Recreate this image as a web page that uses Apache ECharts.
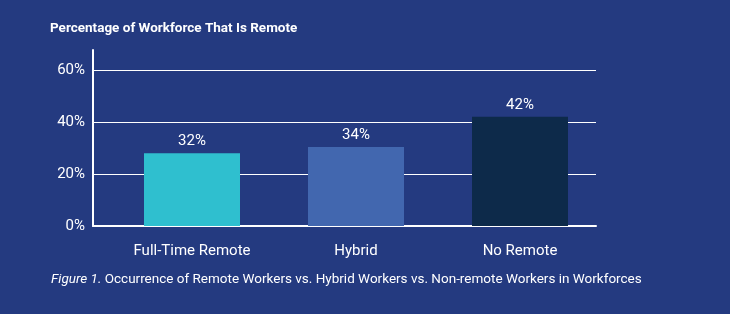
<!DOCTYPE html>
<html>
<head>
	<meta charset="utf-8">
	<title>Remote workforce</title>
	<script src="https://cdn.jsdelivr.net/npm/echarts@6/dist/echarts.min.js"></script>
	<style>
		html, body { margin: 0; padding: 0; background: #243a80; }
	</style>
</head>
<body>
	<div id="main" style="width: 730px;height:314px;"></div>
	<script type="text/javascript">
	var myChart = echarts.init(document.getElementById('main'));

	// categories and values
	var categories = ['Full-Time Remote', 'Hybrid', 'No Remote'];
	var barHeights = [28, 30.4, 42];           // drawn bar heights (%)
	var barLabels = ['32%', '34%', '42%'];     // printed labels above bars
	var barColors = ['#2fbfcf', '#4267af', '#0d2a4a'];
	var yTicks = [0, 20, 40, 60];

	var white = '#ffffff';
	var font = 'Roboto';

	var option = {
		backgroundColor: '#243a80',
		animation: false,
		title: [{
			text: 'Percentage of Workforce That Is Remote',
			left: 45,
			top: 17,
			textStyle: { color: white, fontFamily: font, fontWeight: 'bold', fontSize: 13.5 }
		}, {
			text: '{i|Figure 1.} Occurrence of Remote Workers vs. Hybrid Workers vs. Non-remote Workers in Workforces',
			left: 46,
			top: 268,
			textStyle: {
				color: white, fontFamily: font, fontSize: 13.5, fontWeight: 'normal',
				rich: { i: { fontStyle: 'italic', fontWeight: 'normal', color: white, fontFamily: font, fontSize: 13.5 } }
			}
		}],
		grid: [
			// grid lines and y labels
			{ left: 93, right: 134, top: 70, bottom: 88 },
			// bars and category labels
			{ left: 110, right: 128, top: 70, bottom: 88 },
			// the tall vertical axis line
			{ left: 93, right: 134, top: 50, bottom: 88 }
		],
		xAxis: [{
			gridIndex: 0, type: 'category', data: categories,
			axisLine: { lineStyle: { color: white, width: 2 } },
			axisTick: { show: false }, axisLabel: { show: false }
		}, {
			gridIndex: 1, type: 'category', data: categories,
			axisLine: { show: false }, axisTick: { show: false },
			axisLabel: { color: white, fontFamily: font, fontSize: 15, margin: 18 }
		}, {
			gridIndex: 2, type: 'category', data: categories, show: false
		}],
		yAxis: [{
			gridIndex: 0, type: 'value', min: yTicks[0], max: yTicks[yTicks.length - 1], interval: 20,
			axisLine: { show: false }, axisTick: { show: false },
			axisLabel: { color: white, fontFamily: font, fontSize: 15, margin: 8, formatter: '{value}%' },
			splitLine: { lineStyle: { color: white, width: 1 } }
		}, {
			gridIndex: 1, type: 'value', min: yTicks[0], max: yTicks[yTicks.length - 1], interval: 20,
			show: false
		}, {
			gridIndex: 2, type: 'value', min: 0, max: 1,
			axisLine: { show: true, lineStyle: { color: white, width: 2 } },
			axisTick: { show: false }, axisLabel: { show: false }, splitLine: { show: false }
		}],
		series: [{
			type: 'bar',
			xAxisIndex: 1,
			yAxisIndex: 1,
			barWidth: 96,
			data: barHeights.map(function (v, i) {
				return { value: v, itemStyle: { color: barColors[i] } };
			}),
			label: {
				show: true,
				position: 'top',
				distance: 4,
				color: white,
				fontFamily: font,
				fontSize: 15,
				formatter: function (p) { return barLabels[p.dataIndex]; }
			}
		}]
	};

	myChart.setOption(option);
	</script>
</body>
</html>
